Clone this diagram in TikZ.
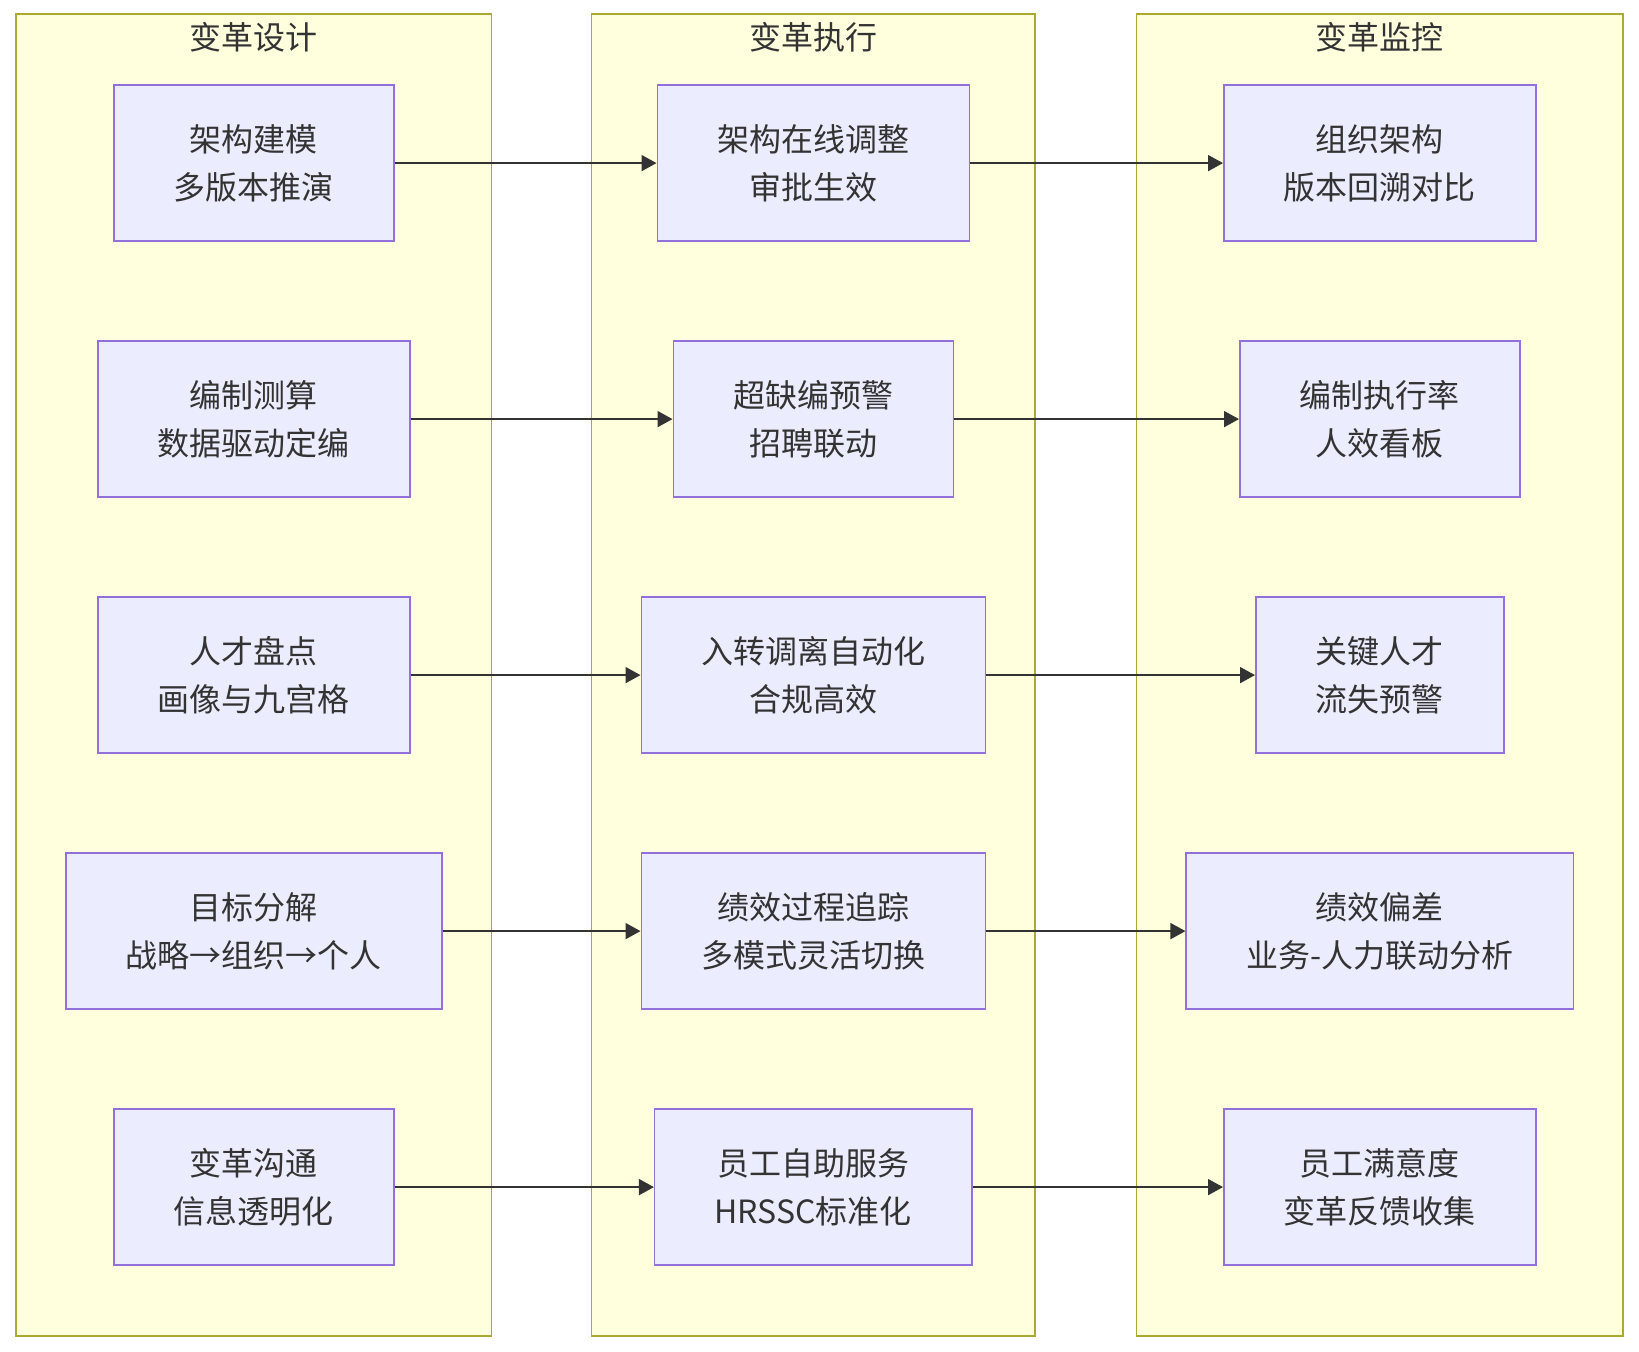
\documentclass[tikz,border=0pt]{standalone}
\usepackage{fontspec}
\setmainfont{Noto Sans CJK SC}
\usepackage{xcolor}
\usetikzlibrary{arrows.meta, positioning, fit, backgrounds}
\definecolor{stagefill}{HTML}{FFFFDE}
\definecolor{stageline}{HTML}{AAAA33}
\definecolor{taskfill}{HTML}{ECECFF}
\definecolor{taskline}{HTML}{9370DB}
\definecolor{ink}{HTML}{333333}
\tikzset{
  task/.style={rectangle, draw=taskline, fill=taskfill, line width=0.8pt,
    align=center, inner xsep=30pt, minimum height=78pt,
    font=\fontsize{16}{24}\selectfont, text=ink},
  stage/.style={rectangle, draw=stageline, fill=stagefill, line width=0.8pt,
    inner xsep=24.5pt, inner ysep=35pt},
  stagetitle/.style={font=\fontsize{16}{24}\selectfont, text=ink},
  flow/.style={-{Triangle[length=7.5pt,width=8pt]}, line width=0.9pt, color=ink},
}

\begin{document}
\begin{tikzpicture}[node distance=49.2pt]
  \useasboundingbox (0,0) rectangle (819.5pt,-676pt);

  % design column
  \node[task] (d1) at (126.85pt,-81.55pt) {架构建模\\多版本推演};
  \node[task, below=of d1] (d2) {编制测算\\数据驱动定编};
  \node[task, below=of d2] (d3) {人才盘点\\画像与九宫格};
  \node[task, below=of d3] (d4) {目标分解\\战略→组织→个人};
  \node[task, below=of d4] (d5) {变革沟通\\信息透明化};

  % execution column
  \node[task] (e1) at (406.65pt,-81.55pt) {架构在线调整\\审批生效};
  \node[task, below=of e1] (e2) {超缺编预警\\招聘联动};
  \node[task, below=of e2] (e3) {入转调离自动化\\合规高效};
  \node[task, below=of e3] (e4) {绩效过程追踪\\多模式灵活切换};
  \node[task, below=of e4] (e5) {员工自助服务\\HRSSC标准化};

  % monitoring column
  \node[task] (m1) at (689.9pt,-81.55pt) {组织架构\\版本回溯对比};
  \node[task, below=of m1] (m2) {编制执行率\\人效看板};
  \node[task, below=of m2] (m3) {关键人才\\流失预警};
  \node[task, below=of m3] (m4) {绩效偏差\\业务-人力联动分析};
  \node[task, below=of m4] (m5) {员工满意度\\变革反馈收集};

  \begin{scope}[on background layer]
    \node[stage, fit=(d1)(d2)(d3)(d4)(d5)] (design) {};
    \node[stage, fit=(e1)(e2)(e3)(e4)(e5)] (exec) {};
    \node[stage, fit=(m1)(m2)(m3)(m4)(m5)] (monitor) {};
  \end{scope}
  \node[stagetitle] (tdesign) at ([yshift=-12pt]design.north) {变革设计};
  \node[stagetitle] (texec) at ([yshift=-12pt]exec.north) {变革执行};
  \node[stagetitle] (tmonitor) at ([yshift=-12pt]monitor.north) {变革监控};

  \foreach \i in {1,...,5} {
    \draw[flow] (d\i)--(e\i);
    \draw[flow] (e\i)--(m\i);
  }
\end{tikzpicture}
\end{document}
